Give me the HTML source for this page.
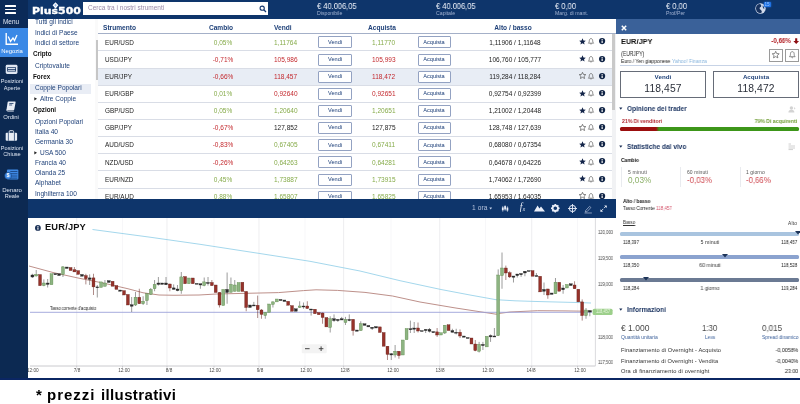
<!DOCTYPE html>
<html lang="it"><head><meta charset="utf-8"><title>Plus500 - EUR/JPY</title>
<style>
html,body{margin:0;padding:0;background:#fff;}
body{width:800px;height:404px;position:relative;overflow:hidden;font-family:"Liberation Sans",Arial,sans-serif;}
.t{position:absolute;white-space:nowrap;display:block;will-change:transform;}
.b{position:absolute;box-sizing:border-box;}
svg{position:absolute;overflow:visible;}
</style></head>
<body>
<div class="b" style="left:0px;top:0px;width:800px;height:19px;background:#0e356b;"></div>
<div class="b" style="left:0px;top:19px;width:28px;height:360.5px;background:#0c2952;"></div>
<div class="b" style="left:0px;top:0px;width:28px;height:28px;background:#0b2a58;"></div>
<div class="b" style="left:0px;top:27.8px;width:28.2px;height:29.4px;background:#3b89e6;"></div>
<div class="b" style="left:28px;top:199px;width:587.5px;height:18.5px;background:#0e356b;"></div>
<div class="b" style="left:0px;top:377.6px;width:800px;height:2px;background:#0b2663;"></div>
<div class="b" style="left:30px;top:83.8px;width:61px;height:10px;background:#e9edf5;"></div>
<span class="t" style="top:19.43px;font-size:6.55px;line-height:6.55px;color:#1f4179;left:34.7px;">Tutti gli indici</span>
<span class="t" style="top:29.73px;font-size:6.55px;line-height:6.55px;color:#1f4179;left:34.7px;">Indici di Paese</span>
<span class="t" style="top:39.93px;font-size:6.55px;line-height:6.55px;color:#1f4179;left:34.7px;">Indici di settore</span>
<span class="t" style="top:50.65px;font-size:6.3px;line-height:6.3px;color:#111;font-weight:bold;left:32.8px;">Cripto</span>
<span class="t" style="top:62.73px;font-size:6.55px;line-height:6.55px;color:#1f4179;left:34.7px;">Criptovalute</span>
<span class="t" style="top:73.65px;font-size:6.3px;line-height:6.3px;color:#111;font-weight:bold;left:32.8px;">Forex</span>
<span class="t" style="top:85.42px;font-size:6.55px;line-height:6.55px;color:#1f4179;left:34.7px;">Coppie Popolari</span>
<svg style="left:33.8px;top:97.10000000000001px" width="4" height="4" viewBox="0 0 4 4"><path d="M0.3 0.2 L3 1.8 L0.3 3.4 Z" fill="#222"/></svg>
<span class="t" style="top:95.62px;font-size:6.55px;line-height:6.55px;color:#1f4179;left:40.3px;">Altre Coppie</span>
<span class="t" style="top:107.45px;font-size:6.3px;line-height:6.3px;color:#111;font-weight:bold;left:32.8px;">Opzioni</span>
<span class="t" style="top:119.02px;font-size:6.55px;line-height:6.55px;color:#1f4179;left:34.7px;">Opzioni Popolari</span>
<span class="t" style="top:129.22px;font-size:6.55px;line-height:6.55px;color:#1f4179;left:34.7px;">Italia 40</span>
<span class="t" style="top:139.42px;font-size:6.55px;line-height:6.55px;color:#1f4179;left:34.7px;">Germania 30</span>
<svg style="left:33.8px;top:151.09999999999997px" width="4" height="4" viewBox="0 0 4 4"><path d="M0.3 0.2 L3 1.8 L0.3 3.4 Z" fill="#222"/></svg>
<span class="t" style="top:149.62px;font-size:6.55px;line-height:6.55px;color:#1f4179;left:40.3px;">USA 500</span>
<span class="t" style="top:159.62px;font-size:6.55px;line-height:6.55px;color:#1f4179;left:34.7px;">Francia 40</span>
<span class="t" style="top:169.92px;font-size:6.55px;line-height:6.55px;color:#1f4179;left:34.7px;">Olanda 25</span>
<span class="t" style="top:180.12px;font-size:6.55px;line-height:6.55px;color:#1f4179;left:34.7px;">Alphabet</span>
<span class="t" style="top:191.02px;font-size:6.55px;line-height:6.55px;color:#1f4179;left:34.7px;">Inghilterra 100</span>
<div class="b" style="left:28px;top:0px;width:70px;height:19px;background:#0e356b;"></div>
<div class="b" style="left:95px;top:19px;width:3px;height:181px;background:#fafafa;"></div>
<div class="b" style="left:95.8px;top:40px;width:2.1px;height:40px;background:#c6c6c6;"></div>
<span class="t" style="top:7.20px;font-size:9.0px;line-height:9.0px;color:#fff;font-weight:bold;left:32.0px;transform:scaleX(1.215);transform-origin:0 50%;font-family:'DejaVu Sans','Liberation Sans',sans-serif;-webkit-text-stroke:0.35px #fff;">Plus500</span>
<svg style="left:52.4px;top:1.9px" width="7" height="7" viewBox="0 0 7 7"><path d="M3.5 0.3 L6.4 3.3 L4.4 5.4 V6.6 H2.6 V5.4 L0.6 3.3 Z" fill="#fff"/><path d="M3.5 1.9 V4.5 M2.2 3.2 H4.8" stroke="#7aa6e0" stroke-width="0.6"/></svg>
<div class="b" style="left:83px;top:2.2px;width:185px;height:12.7px;background:#fff;"></div>
<span class="t" style="top:5.35px;font-size:6.5px;line-height:6.5px;color:#9a8aa8;left:88px;">Cerca tra i nostri strumenti</span>
<svg style="left:258.5px;top:5px" width="8" height="8" viewBox="0 0 8 8"><circle cx="3.2" cy="3.2" r="2.1" fill="none" stroke="#16386f" stroke-width="1.1"/><path d="M4.8 4.8 L7 7" stroke="#16386f" stroke-width="1.3"/></svg>
<span class="t" style="top:1.70px;font-size:8.4px;line-height:8.4px;color:#eef2fa;left:316.5px;transform:scaleX(0.8946);transform-origin:0 50%;">€ 40.006,05</span>
<span class="t" style="top:11.20px;font-size:5.2px;line-height:5.2px;color:#a3b3d2;left:316.5px;">Disponibile</span>
<span class="t" style="top:1.70px;font-size:8.4px;line-height:8.4px;color:#eef2fa;left:435.5px;transform:scaleX(0.8946);transform-origin:0 50%;">€ 40.006,05</span>
<span class="t" style="top:11.20px;font-size:5.2px;line-height:5.2px;color:#a3b3d2;left:435.5px;">Capitale</span>
<span class="t" style="top:1.70px;font-size:8.4px;line-height:8.4px;color:#eef2fa;left:554.5px;transform:scaleX(0.8992);transform-origin:0 50%;">€ 0,00</span>
<span class="t" style="top:11.20px;font-size:5.2px;line-height:5.2px;color:#a3b3d2;left:554.5px;">Marg. di mant.</span>
<span class="t" style="top:1.70px;font-size:8.4px;line-height:8.4px;color:#eef2fa;left:666px;transform:scaleX(0.8992);transform-origin:0 50%;">€ 0,00</span>
<span class="t" style="top:11.20px;font-size:5.2px;line-height:5.2px;color:#a3b3d2;left:666px;">Prof/Per</span>
<svg style="left:755px;top:3px" width="11" height="11" viewBox="0 0 11 11"><circle cx="5.5" cy="5.5" r="5.2" fill="#cfd9ea"/><path d="M3.6 1.2 C5.2 0.8 6.6 1.8 6.2 3.2 C5.8 4.4 4.4 4.2 4.6 5.6 C4.8 7 6.6 6.8 6.8 8.4 C6.9 9.4 5.8 10.2 4.6 10 C2.4 9.4 1 7.6 1 5.4 C1 3.4 2 1.8 3.6 1.2 Z" fill="#17325f"/><path d="M7.6 2.4 C8.8 3.2 9.4 4.6 9.2 6 C8.6 5.6 7.6 4.6 7.6 2.4 Z" fill="#17325f"/></svg>
<div class="b" style="left:763.6px;top:2.3px;width:7px;height:5px;background:#1f72e4;border-radius:1px;box-shadow:0 0 2px #1f72e4;"></div>
<span class="t" style="top:2.60px;font-size:4.6px;line-height:4.6px;color:#9cc6ff;left:767.1px;transform:translateX(-50%);">15</span>
<div class="b" style="left:5.1px;top:5.1px;width:11px;height:1.9px;background:#fff;border-radius:0.5px;"></div>
<div class="b" style="left:5.1px;top:8.600000000000001px;width:11px;height:1.9px;background:#fff;border-radius:0.5px;"></div>
<div class="b" style="left:5.1px;top:12.100000000000001px;width:11px;height:1.9px;background:#fff;border-radius:0.5px;"></div>
<span class="t" style="top:18.70px;font-size:6.4px;line-height:6.4px;color:#dfe6f2;left:11.3px;transform:translateX(-50%);">Menu</span>
<svg style="left:4.5px;top:32px" width="14" height="14" viewBox="0 0 14 14"><path d="M1.2 1 V12.3 H13" fill="none" stroke="#fff" stroke-width="1.4"/><path d="M3.2 4.5 L5.5 9.5 L8 6 L9.5 8.5 L12 3" fill="none" stroke="#fff" stroke-width="1.3"/></svg>
<span class="t" style="top:49.05px;font-size:5.9px;line-height:5.9px;color:#fff;left:11.6px;transform:translateX(-50%);">Negozia</span>
<svg style="left:5px;top:63.6px" width="13.2" height="11" viewBox="0 0 14 12"><rect x="0.6" y="0.8" width="12.8" height="10" rx="1.6" fill="#dfe6f2"/><rect x="2.2" y="3.6" width="9.6" height="4.6" fill="#0b2b5a"/><rect x="3" y="4.4" width="8" height="1.2" fill="#dfe6f2"/><rect x="3" y="6.4" width="8" height="1" fill="#dfe6f2"/></svg>
<span class="t" style="top:79.20px;font-size:5.6px;line-height:5.6px;color:#dfe6f2;left:11.6px;transform:translateX(-50%);">Posizioni</span>
<span class="t" style="top:85.50px;font-size:5.6px;line-height:5.6px;color:#dfe6f2;left:11.6px;transform:translateX(-50%);">Aperte</span>
<svg style="left:5.2px;top:100.6px" width="12.6" height="10.8" viewBox="0 0 14 13"><path d="M3.5 0.6 H11.5 Q12.4 0.6 12.2 1.6 L10.6 10.2 Q10.4 11 9.6 11 H2 Q1 11 1.3 10 L2.6 1.5 Q2.8 0.6 3.5 0.6 Z" fill="#e8edf6"/><path d="M1.3 10.3 Q1.2 12.2 3 12.2 H10" fill="none" stroke="#e8edf6" stroke-width="1"/><path d="M4.6 3 H9.6 M4.3 4.8 H8" stroke="#0b2b5a" stroke-width="0.9"/></svg>
<span class="t" style="top:115.35px;font-size:5.9px;line-height:5.9px;color:#dfe6f2;left:11.4px;transform:translateX(-50%);">Ordini</span>
<svg style="left:5.2px;top:130.4px" width="12.8" height="11.6" viewBox="0 0 14 13"><path d="M4.6 3 V1.6 Q4.6 0.8 5.4 0.8 H8.6 Q9.4 0.8 9.4 1.6 V3" fill="none" stroke="#e8edf6" stroke-width="1.1"/><rect x="0.6" y="3" width="12.8" height="9" rx="1.2" fill="#e8edf6"/><path d="M3.6 3 V12 M10.4 3 V12" stroke="#0b2b5a" stroke-width="0.8"/></svg>
<span class="t" style="top:145.60px;font-size:5.6px;line-height:5.6px;color:#dfe6f2;left:11.6px;transform:translateX(-50%);">Posizioni</span>
<span class="t" style="top:151.90px;font-size:5.6px;line-height:5.6px;color:#dfe6f2;left:11.6px;transform:translateX(-50%);">Chiuse</span>
<svg style="left:4px;top:168.8px" width="15.4" height="11.4" viewBox="0 0 16 12"><rect x="3" y="0.6" width="12" height="10.4" rx="1" fill="#3f8be8"/><path d="M6.5 2.6 H14 M6.5 5 H14 M6.5 7.4 H14 M6.5 9.6 H14" stroke="#0b2b5a" stroke-width="0.7"/><circle cx="4.2" cy="7.2" r="3.7" fill="#3f8be8" stroke="#0b2b5a" stroke-width="0.5"/></svg>
<span class="t" style="top:173.05px;font-size:5.5px;line-height:5.5px;color:#fff;font-weight:bold;left:8.1px;transform:translateX(-50%);">$</span>
<span class="t" style="top:187.30px;font-size:6.0px;line-height:6.0px;color:#dfe6f2;left:11.6px;transform:translateX(-50%);">Denaro</span>
<span class="t" style="top:194.00px;font-size:5.6px;line-height:5.6px;color:#dfe6f2;left:11.6px;transform:translateX(-50%);">Reale</span>
<div class="b" style="left:98px;top:19px;width:514px;height:181px;background:#fff;"></div>
<div class="b" style="left:98px;top:67.5px;width:514px;height:17.2px;background:#e8edf5;"></div>
<div class="b" style="left:98px;top:33px;width:517.5px;height:1px;background:#a4b0c8;"></div>
<div class="b" style="left:98px;top:50.4px;width:514px;height:1px;background:#d9dde6;"></div>
<div class="b" style="left:98px;top:67.55px;width:514px;height:1px;background:#d9dde6;"></div>
<div class="b" style="left:98px;top:84.69999999999999px;width:514px;height:1px;background:#d9dde6;"></div>
<div class="b" style="left:98px;top:101.85px;width:514px;height:1px;background:#d9dde6;"></div>
<div class="b" style="left:98px;top:119.0px;width:514px;height:1px;background:#d9dde6;"></div>
<div class="b" style="left:98px;top:136.14999999999998px;width:514px;height:1px;background:#d9dde6;"></div>
<div class="b" style="left:98px;top:153.29999999999998px;width:514px;height:1px;background:#d9dde6;"></div>
<div class="b" style="left:98px;top:170.45px;width:514px;height:1px;background:#d9dde6;"></div>
<div class="b" style="left:98px;top:187.6px;width:514px;height:1px;background:#d9dde6;"></div>
<span class="t" style="top:25.10px;font-size:6.6px;line-height:6.6px;color:#1f4179;font-weight:bold;left:103px;">Strumento</span>
<span class="t" style="top:25.10px;font-size:6.6px;line-height:6.6px;color:#1f4179;font-weight:bold;left:220.5px;transform:translateX(-50%);">Cambio</span>
<span class="t" style="top:25.10px;font-size:6.6px;line-height:6.6px;color:#1f4179;font-weight:bold;left:274px;">Vendi</span>
<span class="t" style="top:25.10px;font-size:6.6px;line-height:6.6px;color:#1f4179;font-weight:bold;right:404.5px;">Acquista</span>
<span class="t" style="top:25.10px;font-size:6.6px;line-height:6.6px;color:#1f4179;font-weight:bold;left:512.5px;transform:translateX(-50%);">Alto / basso</span>
<span class="t" style="top:39.55px;font-size:6.4px;line-height:6.4px;color:#222;left:104.7px;">EUR/USD</span>
<span class="t" style="top:39.50px;font-size:6.5px;line-height:6.5px;color:#86ab4a;left:222.5px;transform:translateX(-50%);">0,05%</span>
<span class="t" style="top:39.50px;font-size:6.5px;line-height:6.5px;color:#86ab4a;left:274px;">1,11764</span>
<span class="t" style="top:39.50px;font-size:6.5px;line-height:6.5px;color:#86ab4a;right:404.5px;">1,11770</span>
<div class="b" style="left:318px;top:36.35px;width:33.5px;height:12px;background:#fff;border:1px solid #93a2c2;border-radius:1px;"></div>
<span class="t" style="top:39.65px;font-size:5.6px;line-height:5.6px;color:#173a75;left:334.7px;transform:translateX(-50%);">Vendi</span>
<div class="b" style="left:417.5px;top:36.35px;width:33.5px;height:12px;background:#fff;border:1px solid #93a2c2;border-radius:1px;"></div>
<span class="t" style="top:39.65px;font-size:5.6px;line-height:5.6px;color:#173a75;left:434.2px;transform:translateX(-50%);">Acquista</span>
<span class="t" style="top:39.50px;font-size:6.5px;line-height:6.5px;color:#222;left:515px;transform:translateX(-50%);">1,11906 / 1,11648</span>
<svg style="left:579px;top:38.05px" width="7" height="7" viewBox="0 0 7 7"><path d="M3.5 0.3 L4.45 2.4 L6.8 2.65 L5.05 4.2 L5.55 6.5 L3.5 5.3 L1.45 6.5 L1.95 4.2 L0.2 2.65 L2.55 2.4 Z" fill="#14254a"/></svg>
<svg style="left:587.7px;top:38.45px" width="6" height="7" viewBox="0 0 6 7"><path d="M3 0.6 C1.6 0.6 1.3 1.8 1.3 3 C1.3 4.2 0.9 4.6 0.4 5.2 H5.6 C5.1 4.6 4.7 4.2 4.7 3 C4.7 1.8 4.4 0.6 3 0.6 Z M2.3 5.8 Q3 6.6 3.7 5.8" fill="none" stroke="#555" stroke-width="0.65"/></svg>
<svg style="left:598.7px;top:38.35px" width="6.2" height="6.2" viewBox="0 0 8 8"><circle cx="4" cy="4" r="4" fill="#0f2345"/><rect x="3.3" y="3.3" width="1.5" height="3.2" fill="#fff"/><rect x="3.3" y="1.4" width="1.5" height="1.3" fill="#fff"/></svg>
<span class="t" style="top:56.70px;font-size:6.4px;line-height:6.4px;color:#222;left:104.7px;">USD/JPY</span>
<span class="t" style="top:56.65px;font-size:6.5px;line-height:6.5px;color:#c3282d;left:222.5px;transform:translateX(-50%);">-0,71%</span>
<span class="t" style="top:56.65px;font-size:6.5px;line-height:6.5px;color:#c3282d;left:274px;">105,986</span>
<span class="t" style="top:56.65px;font-size:6.5px;line-height:6.5px;color:#c3282d;right:404.5px;">105,993</span>
<div class="b" style="left:318px;top:53.5px;width:33.5px;height:12px;background:#fff;border:1px solid #93a2c2;border-radius:1px;"></div>
<span class="t" style="top:56.80px;font-size:5.6px;line-height:5.6px;color:#173a75;left:334.7px;transform:translateX(-50%);">Vendi</span>
<div class="b" style="left:417.5px;top:53.5px;width:33.5px;height:12px;background:#fff;border:1px solid #93a2c2;border-radius:1px;"></div>
<span class="t" style="top:56.80px;font-size:5.6px;line-height:5.6px;color:#173a75;left:434.2px;transform:translateX(-50%);">Acquista</span>
<span class="t" style="top:56.65px;font-size:6.5px;line-height:6.5px;color:#222;left:515px;transform:translateX(-50%);">106,760 / 105,777</span>
<svg style="left:579px;top:55.199999999999996px" width="7" height="7" viewBox="0 0 7 7"><path d="M3.5 0.3 L4.45 2.4 L6.8 2.65 L5.05 4.2 L5.55 6.5 L3.5 5.3 L1.45 6.5 L1.95 4.2 L0.2 2.65 L2.55 2.4 Z" fill="#14254a"/></svg>
<svg style="left:587.7px;top:55.6px" width="6" height="7" viewBox="0 0 6 7"><path d="M3 0.6 C1.6 0.6 1.3 1.8 1.3 3 C1.3 4.2 0.9 4.6 0.4 5.2 H5.6 C5.1 4.6 4.7 4.2 4.7 3 C4.7 1.8 4.4 0.6 3 0.6 Z M2.3 5.8 Q3 6.6 3.7 5.8" fill="none" stroke="#555" stroke-width="0.65"/></svg>
<svg style="left:598.7px;top:55.5px" width="6.2" height="6.2" viewBox="0 0 8 8"><circle cx="4" cy="4" r="4" fill="#0f2345"/><rect x="3.3" y="3.3" width="1.5" height="3.2" fill="#fff"/><rect x="3.3" y="1.4" width="1.5" height="1.3" fill="#fff"/></svg>
<span class="t" style="top:73.85px;font-size:6.4px;line-height:6.4px;color:#222;left:104.7px;">EUR/JPY</span>
<span class="t" style="top:73.80px;font-size:6.5px;line-height:6.5px;color:#c3282d;left:222.5px;transform:translateX(-50%);">-0,66%</span>
<span class="t" style="top:73.80px;font-size:6.5px;line-height:6.5px;color:#c3282d;left:274px;">118,457</span>
<span class="t" style="top:73.80px;font-size:6.5px;line-height:6.5px;color:#c3282d;right:404.5px;">118,472</span>
<div class="b" style="left:318px;top:70.64999999999999px;width:33.5px;height:12px;background:#fff;border:1px solid #93a2c2;border-radius:1px;"></div>
<span class="t" style="top:73.95px;font-size:5.6px;line-height:5.6px;color:#173a75;left:334.7px;transform:translateX(-50%);">Vendi</span>
<div class="b" style="left:417.5px;top:70.64999999999999px;width:33.5px;height:12px;background:#fff;border:1px solid #93a2c2;border-radius:1px;"></div>
<span class="t" style="top:73.95px;font-size:5.6px;line-height:5.6px;color:#173a75;left:434.2px;transform:translateX(-50%);">Acquista</span>
<span class="t" style="top:73.80px;font-size:6.5px;line-height:6.5px;color:#222;left:515px;transform:translateX(-50%);">119,284 / 118,284</span>
<svg style="left:579px;top:72.35px" width="7" height="7" viewBox="0 0 7 7"><path d="M3.5 0.3 L4.45 2.4 L6.8 2.65 L5.05 4.2 L5.55 6.5 L3.5 5.3 L1.45 6.5 L1.95 4.2 L0.2 2.65 L2.55 2.4 Z" fill="none" stroke="#555" stroke-width="0.7"/></svg>
<svg style="left:587.7px;top:72.75px" width="6" height="7" viewBox="0 0 6 7"><path d="M3 0.6 C1.6 0.6 1.3 1.8 1.3 3 C1.3 4.2 0.9 4.6 0.4 5.2 H5.6 C5.1 4.6 4.7 4.2 4.7 3 C4.7 1.8 4.4 0.6 3 0.6 Z M2.3 5.8 Q3 6.6 3.7 5.8" fill="none" stroke="#555" stroke-width="0.65"/></svg>
<svg style="left:598.7px;top:72.64999999999999px" width="6.2" height="6.2" viewBox="0 0 8 8"><circle cx="4" cy="4" r="4" fill="#0f2345"/><rect x="3.3" y="3.3" width="1.5" height="3.2" fill="#fff"/><rect x="3.3" y="1.4" width="1.5" height="1.3" fill="#fff"/></svg>
<span class="t" style="top:91.00px;font-size:6.4px;line-height:6.4px;color:#222;left:104.7px;">EUR/GBP</span>
<span class="t" style="top:90.95px;font-size:6.5px;line-height:6.5px;color:#86ab4a;left:222.5px;transform:translateX(-50%);">0,01%</span>
<span class="t" style="top:90.95px;font-size:6.5px;line-height:6.5px;color:#c3282d;left:274px;">0,92640</span>
<span class="t" style="top:90.95px;font-size:6.5px;line-height:6.5px;color:#c3282d;right:404.5px;">0,92651</span>
<div class="b" style="left:318px;top:87.79999999999998px;width:33.5px;height:12px;background:#fff;border:1px solid #93a2c2;border-radius:1px;"></div>
<span class="t" style="top:91.10px;font-size:5.6px;line-height:5.6px;color:#173a75;left:334.7px;transform:translateX(-50%);">Vendi</span>
<div class="b" style="left:417.5px;top:87.79999999999998px;width:33.5px;height:12px;background:#fff;border:1px solid #93a2c2;border-radius:1px;"></div>
<span class="t" style="top:91.10px;font-size:5.6px;line-height:5.6px;color:#173a75;left:434.2px;transform:translateX(-50%);">Acquista</span>
<span class="t" style="top:90.95px;font-size:6.5px;line-height:6.5px;color:#222;left:515px;transform:translateX(-50%);">0,92754 / 0,92399</span>
<svg style="left:579px;top:89.49999999999999px" width="7" height="7" viewBox="0 0 7 7"><path d="M3.5 0.3 L4.45 2.4 L6.8 2.65 L5.05 4.2 L5.55 6.5 L3.5 5.3 L1.45 6.5 L1.95 4.2 L0.2 2.65 L2.55 2.4 Z" fill="#14254a"/></svg>
<svg style="left:587.7px;top:89.89999999999999px" width="6" height="7" viewBox="0 0 6 7"><path d="M3 0.6 C1.6 0.6 1.3 1.8 1.3 3 C1.3 4.2 0.9 4.6 0.4 5.2 H5.6 C5.1 4.6 4.7 4.2 4.7 3 C4.7 1.8 4.4 0.6 3 0.6 Z M2.3 5.8 Q3 6.6 3.7 5.8" fill="none" stroke="#555" stroke-width="0.65"/></svg>
<svg style="left:598.7px;top:89.79999999999998px" width="6.2" height="6.2" viewBox="0 0 8 8"><circle cx="4" cy="4" r="4" fill="#0f2345"/><rect x="3.3" y="3.3" width="1.5" height="3.2" fill="#fff"/><rect x="3.3" y="1.4" width="1.5" height="1.3" fill="#fff"/></svg>
<span class="t" style="top:108.15px;font-size:6.4px;line-height:6.4px;color:#222;left:104.7px;">GBP/USD</span>
<span class="t" style="top:108.10px;font-size:6.5px;line-height:6.5px;color:#86ab4a;left:222.5px;transform:translateX(-50%);">0,05%</span>
<span class="t" style="top:108.10px;font-size:6.5px;line-height:6.5px;color:#86ab4a;left:274px;">1,20640</span>
<span class="t" style="top:108.10px;font-size:6.5px;line-height:6.5px;color:#86ab4a;right:404.5px;">1,20651</span>
<div class="b" style="left:318px;top:104.94999999999999px;width:33.5px;height:12px;background:#fff;border:1px solid #93a2c2;border-radius:1px;"></div>
<span class="t" style="top:108.25px;font-size:5.6px;line-height:5.6px;color:#173a75;left:334.7px;transform:translateX(-50%);">Vendi</span>
<div class="b" style="left:417.5px;top:104.94999999999999px;width:33.5px;height:12px;background:#fff;border:1px solid #93a2c2;border-radius:1px;"></div>
<span class="t" style="top:108.25px;font-size:5.6px;line-height:5.6px;color:#173a75;left:434.2px;transform:translateX(-50%);">Acquista</span>
<span class="t" style="top:108.10px;font-size:6.5px;line-height:6.5px;color:#222;left:515px;transform:translateX(-50%);">1,21002 / 1,20448</span>
<svg style="left:579px;top:106.64999999999999px" width="7" height="7" viewBox="0 0 7 7"><path d="M3.5 0.3 L4.45 2.4 L6.8 2.65 L5.05 4.2 L5.55 6.5 L3.5 5.3 L1.45 6.5 L1.95 4.2 L0.2 2.65 L2.55 2.4 Z" fill="#14254a"/></svg>
<svg style="left:587.7px;top:107.05px" width="6" height="7" viewBox="0 0 6 7"><path d="M3 0.6 C1.6 0.6 1.3 1.8 1.3 3 C1.3 4.2 0.9 4.6 0.4 5.2 H5.6 C5.1 4.6 4.7 4.2 4.7 3 C4.7 1.8 4.4 0.6 3 0.6 Z M2.3 5.8 Q3 6.6 3.7 5.8" fill="none" stroke="#555" stroke-width="0.65"/></svg>
<svg style="left:598.7px;top:106.94999999999999px" width="6.2" height="6.2" viewBox="0 0 8 8"><circle cx="4" cy="4" r="4" fill="#0f2345"/><rect x="3.3" y="3.3" width="1.5" height="3.2" fill="#fff"/><rect x="3.3" y="1.4" width="1.5" height="1.3" fill="#fff"/></svg>
<span class="t" style="top:125.30px;font-size:6.4px;line-height:6.4px;color:#222;left:104.7px;">GBP/JPY</span>
<span class="t" style="top:125.25px;font-size:6.5px;line-height:6.5px;color:#c3282d;left:222.5px;transform:translateX(-50%);">-0,67%</span>
<span class="t" style="top:125.25px;font-size:6.5px;line-height:6.5px;color:#222;left:274px;">127,852</span>
<span class="t" style="top:125.25px;font-size:6.5px;line-height:6.5px;color:#222;right:404.5px;">127,875</span>
<div class="b" style="left:318px;top:122.1px;width:33.5px;height:12px;background:#fff;border:1px solid #93a2c2;border-radius:1px;"></div>
<span class="t" style="top:125.40px;font-size:5.6px;line-height:5.6px;color:#173a75;left:334.7px;transform:translateX(-50%);">Vendi</span>
<div class="b" style="left:417.5px;top:122.1px;width:33.5px;height:12px;background:#fff;border:1px solid #93a2c2;border-radius:1px;"></div>
<span class="t" style="top:125.40px;font-size:5.6px;line-height:5.6px;color:#173a75;left:434.2px;transform:translateX(-50%);">Acquista</span>
<span class="t" style="top:125.25px;font-size:6.5px;line-height:6.5px;color:#222;left:515px;transform:translateX(-50%);">128,748 / 127,639</span>
<svg style="left:579px;top:123.8px" width="7" height="7" viewBox="0 0 7 7"><path d="M3.5 0.3 L4.45 2.4 L6.8 2.65 L5.05 4.2 L5.55 6.5 L3.5 5.3 L1.45 6.5 L1.95 4.2 L0.2 2.65 L2.55 2.4 Z" fill="none" stroke="#555" stroke-width="0.7"/></svg>
<svg style="left:587.7px;top:124.2px" width="6" height="7" viewBox="0 0 6 7"><path d="M3 0.6 C1.6 0.6 1.3 1.8 1.3 3 C1.3 4.2 0.9 4.6 0.4 5.2 H5.6 C5.1 4.6 4.7 4.2 4.7 3 C4.7 1.8 4.4 0.6 3 0.6 Z M2.3 5.8 Q3 6.6 3.7 5.8" fill="none" stroke="#555" stroke-width="0.65"/></svg>
<svg style="left:598.7px;top:124.1px" width="6.2" height="6.2" viewBox="0 0 8 8"><circle cx="4" cy="4" r="4" fill="#0f2345"/><rect x="3.3" y="3.3" width="1.5" height="3.2" fill="#fff"/><rect x="3.3" y="1.4" width="1.5" height="1.3" fill="#fff"/></svg>
<span class="t" style="top:142.45px;font-size:6.4px;line-height:6.4px;color:#222;left:104.7px;">AUD/USD</span>
<span class="t" style="top:142.40px;font-size:6.5px;line-height:6.5px;color:#c3282d;left:222.5px;transform:translateX(-50%);">-0,83%</span>
<span class="t" style="top:142.40px;font-size:6.5px;line-height:6.5px;color:#86ab4a;left:274px;">0,67405</span>
<span class="t" style="top:142.40px;font-size:6.5px;line-height:6.5px;color:#86ab4a;right:404.5px;">0,67411</span>
<div class="b" style="left:318px;top:139.24999999999997px;width:33.5px;height:12px;background:#fff;border:1px solid #93a2c2;border-radius:1px;"></div>
<span class="t" style="top:142.55px;font-size:5.6px;line-height:5.6px;color:#173a75;left:334.7px;transform:translateX(-50%);">Vendi</span>
<div class="b" style="left:417.5px;top:139.24999999999997px;width:33.5px;height:12px;background:#fff;border:1px solid #93a2c2;border-radius:1px;"></div>
<span class="t" style="top:142.55px;font-size:5.6px;line-height:5.6px;color:#173a75;left:434.2px;transform:translateX(-50%);">Acquista</span>
<span class="t" style="top:142.40px;font-size:6.5px;line-height:6.5px;color:#222;left:515px;transform:translateX(-50%);">0,68080 / 0,67354</span>
<svg style="left:579px;top:140.95px" width="7" height="7" viewBox="0 0 7 7"><path d="M3.5 0.3 L4.45 2.4 L6.8 2.65 L5.05 4.2 L5.55 6.5 L3.5 5.3 L1.45 6.5 L1.95 4.2 L0.2 2.65 L2.55 2.4 Z" fill="#14254a"/></svg>
<svg style="left:587.7px;top:141.34999999999997px" width="6" height="7" viewBox="0 0 6 7"><path d="M3 0.6 C1.6 0.6 1.3 1.8 1.3 3 C1.3 4.2 0.9 4.6 0.4 5.2 H5.6 C5.1 4.6 4.7 4.2 4.7 3 C4.7 1.8 4.4 0.6 3 0.6 Z M2.3 5.8 Q3 6.6 3.7 5.8" fill="none" stroke="#555" stroke-width="0.65"/></svg>
<svg style="left:598.7px;top:141.24999999999997px" width="6.2" height="6.2" viewBox="0 0 8 8"><circle cx="4" cy="4" r="4" fill="#0f2345"/><rect x="3.3" y="3.3" width="1.5" height="3.2" fill="#fff"/><rect x="3.3" y="1.4" width="1.5" height="1.3" fill="#fff"/></svg>
<span class="t" style="top:159.60px;font-size:6.4px;line-height:6.4px;color:#222;left:104.7px;">NZD/USD</span>
<span class="t" style="top:159.55px;font-size:6.5px;line-height:6.5px;color:#c3282d;left:222.5px;transform:translateX(-50%);">-0,26%</span>
<span class="t" style="top:159.55px;font-size:6.5px;line-height:6.5px;color:#86ab4a;left:274px;">0,64263</span>
<span class="t" style="top:159.55px;font-size:6.5px;line-height:6.5px;color:#86ab4a;right:404.5px;">0,64281</span>
<div class="b" style="left:318px;top:156.39999999999998px;width:33.5px;height:12px;background:#fff;border:1px solid #93a2c2;border-radius:1px;"></div>
<span class="t" style="top:159.70px;font-size:5.6px;line-height:5.6px;color:#173a75;left:334.7px;transform:translateX(-50%);">Vendi</span>
<div class="b" style="left:417.5px;top:156.39999999999998px;width:33.5px;height:12px;background:#fff;border:1px solid #93a2c2;border-radius:1px;"></div>
<span class="t" style="top:159.70px;font-size:5.6px;line-height:5.6px;color:#173a75;left:434.2px;transform:translateX(-50%);">Acquista</span>
<span class="t" style="top:159.55px;font-size:6.5px;line-height:6.5px;color:#222;left:515px;transform:translateX(-50%);">0,64678 / 0,64226</span>
<svg style="left:579px;top:158.1px" width="7" height="7" viewBox="0 0 7 7"><path d="M3.5 0.3 L4.45 2.4 L6.8 2.65 L5.05 4.2 L5.55 6.5 L3.5 5.3 L1.45 6.5 L1.95 4.2 L0.2 2.65 L2.55 2.4 Z" fill="#14254a"/></svg>
<svg style="left:587.7px;top:158.49999999999997px" width="6" height="7" viewBox="0 0 6 7"><path d="M3 0.6 C1.6 0.6 1.3 1.8 1.3 3 C1.3 4.2 0.9 4.6 0.4 5.2 H5.6 C5.1 4.6 4.7 4.2 4.7 3 C4.7 1.8 4.4 0.6 3 0.6 Z M2.3 5.8 Q3 6.6 3.7 5.8" fill="none" stroke="#555" stroke-width="0.65"/></svg>
<svg style="left:598.7px;top:158.39999999999998px" width="6.2" height="6.2" viewBox="0 0 8 8"><circle cx="4" cy="4" r="4" fill="#0f2345"/><rect x="3.3" y="3.3" width="1.5" height="3.2" fill="#fff"/><rect x="3.3" y="1.4" width="1.5" height="1.3" fill="#fff"/></svg>
<span class="t" style="top:176.75px;font-size:6.4px;line-height:6.4px;color:#222;left:104.7px;">EUR/NZD</span>
<span class="t" style="top:176.70px;font-size:6.5px;line-height:6.5px;color:#86ab4a;left:222.5px;transform:translateX(-50%);">0,45%</span>
<span class="t" style="top:176.70px;font-size:6.5px;line-height:6.5px;color:#86ab4a;left:274px;">1,73887</span>
<span class="t" style="top:176.70px;font-size:6.5px;line-height:6.5px;color:#86ab4a;right:404.5px;">1,73915</span>
<div class="b" style="left:318px;top:173.54999999999998px;width:33.5px;height:12px;background:#fff;border:1px solid #93a2c2;border-radius:1px;"></div>
<span class="t" style="top:176.85px;font-size:5.6px;line-height:5.6px;color:#173a75;left:334.7px;transform:translateX(-50%);">Vendi</span>
<div class="b" style="left:417.5px;top:173.54999999999998px;width:33.5px;height:12px;background:#fff;border:1px solid #93a2c2;border-radius:1px;"></div>
<span class="t" style="top:176.85px;font-size:5.6px;line-height:5.6px;color:#173a75;left:434.2px;transform:translateX(-50%);">Acquista</span>
<span class="t" style="top:176.70px;font-size:6.5px;line-height:6.5px;color:#222;left:515px;transform:translateX(-50%);">1,74062 / 1,72690</span>
<svg style="left:579px;top:175.25px" width="7" height="7" viewBox="0 0 7 7"><path d="M3.5 0.3 L4.45 2.4 L6.8 2.65 L5.05 4.2 L5.55 6.5 L3.5 5.3 L1.45 6.5 L1.95 4.2 L0.2 2.65 L2.55 2.4 Z" fill="#14254a"/></svg>
<svg style="left:587.7px;top:175.64999999999998px" width="6" height="7" viewBox="0 0 6 7"><path d="M3 0.6 C1.6 0.6 1.3 1.8 1.3 3 C1.3 4.2 0.9 4.6 0.4 5.2 H5.6 C5.1 4.6 4.7 4.2 4.7 3 C4.7 1.8 4.4 0.6 3 0.6 Z M2.3 5.8 Q3 6.6 3.7 5.8" fill="none" stroke="#555" stroke-width="0.65"/></svg>
<svg style="left:598.7px;top:175.54999999999998px" width="6.2" height="6.2" viewBox="0 0 8 8"><circle cx="4" cy="4" r="4" fill="#0f2345"/><rect x="3.3" y="3.3" width="1.5" height="3.2" fill="#fff"/><rect x="3.3" y="1.4" width="1.5" height="1.3" fill="#fff"/></svg>
<span class="t" style="top:193.90px;font-size:6.4px;line-height:6.4px;color:#222;left:104.7px;">EUR/AUD</span>
<span class="t" style="top:193.85px;font-size:6.5px;line-height:6.5px;color:#86ab4a;left:222.5px;transform:translateX(-50%);">0,88%</span>
<span class="t" style="top:193.85px;font-size:6.5px;line-height:6.5px;color:#86ab4a;left:274px;">1,65807</span>
<span class="t" style="top:193.85px;font-size:6.5px;line-height:6.5px;color:#86ab4a;right:404.5px;">1,65825</span>
<div class="b" style="left:318px;top:190.7px;width:33.5px;height:12px;background:#fff;border:1px solid #93a2c2;border-radius:1px;"></div>
<span class="t" style="top:194.00px;font-size:5.6px;line-height:5.6px;color:#173a75;left:334.7px;transform:translateX(-50%);">Vendi</span>
<div class="b" style="left:417.5px;top:190.7px;width:33.5px;height:12px;background:#fff;border:1px solid #93a2c2;border-radius:1px;"></div>
<span class="t" style="top:194.00px;font-size:5.6px;line-height:5.6px;color:#173a75;left:434.2px;transform:translateX(-50%);">Acquista</span>
<span class="t" style="top:193.85px;font-size:6.5px;line-height:6.5px;color:#222;left:515px;transform:translateX(-50%);">1,65953 / 1,64035</span>
<svg style="left:579px;top:192.4px" width="7" height="7" viewBox="0 0 7 7"><path d="M3.5 0.3 L4.45 2.4 L6.8 2.65 L5.05 4.2 L5.55 6.5 L3.5 5.3 L1.45 6.5 L1.95 4.2 L0.2 2.65 L2.55 2.4 Z" fill="none" stroke="#555" stroke-width="0.7"/></svg>
<svg style="left:587.7px;top:192.79999999999998px" width="6" height="7" viewBox="0 0 6 7"><path d="M3 0.6 C1.6 0.6 1.3 1.8 1.3 3 C1.3 4.2 0.9 4.6 0.4 5.2 H5.6 C5.1 4.6 4.7 4.2 4.7 3 C4.7 1.8 4.4 0.6 3 0.6 Z M2.3 5.8 Q3 6.6 3.7 5.8" fill="none" stroke="#555" stroke-width="0.65"/></svg>
<svg style="left:598.7px;top:192.7px" width="6.2" height="6.2" viewBox="0 0 8 8"><circle cx="4" cy="4" r="4" fill="#0f2345"/><rect x="3.3" y="3.3" width="1.5" height="3.2" fill="#fff"/><rect x="3.3" y="1.4" width="1.5" height="1.3" fill="#fff"/></svg>
<div class="b" style="left:612px;top:34px;width:3.5px;height:165px;background:#f1f2f4;"></div>
<div class="b" style="left:612.3px;top:34px;width:3px;height:76px;background:#c9c9c9;"></div>
<div class="b" style="left:28px;top:199px;width:587.5px;height:18.5px;background:#0e356b;"></div>
<div class="b" style="left:615.5px;top:19px;width:184.5px;height:359px;background:#fff;"></div>
<div class="b" style="left:615.5px;top:19px;width:184.5px;height:14.5px;background:#3a6199;"></div>
<svg style="left:621px;top:24.5px" width="6" height="6" viewBox="0 0 6 6"><path d="M0.8 0.8 L5.2 5.2 M5.2 0.8 L0.8 5.2" stroke="#fff" stroke-width="1.5"/></svg>
<span class="t" style="top:37.70px;font-size:7.8px;line-height:7.8px;color:#111;font-weight:bold;left:620.6px;transform:scaleX(0.9407);transform-origin:0 50%;">EUR/JPY</span>
<span class="t" style="top:50.50px;font-size:6.4px;line-height:6.4px;color:#333;left:620.6px;transform:scaleX(0.7928);transform-origin:0 50%;">(EURJPY)</span>
<span class="t" style="top:58.70px;font-size:5.2px;line-height:5.2px;color:#222;left:620.6px;transform:scaleX(0.9458);transform-origin:0 50%;">Euro / Yen giapponese</span>
<span class="t" style="top:58.70px;font-size:5.2px;line-height:5.2px;color:#86b4dd;left:672px;transform:scaleX(0.9711);transform-origin:0 50%;">Yahoo! Finanza</span>
<span class="t" style="top:38.00px;font-size:6.6px;line-height:6.6px;color:#b01c22;font-weight:bold;right:9.399999999999977px;transform:scaleX(0.9373);transform-origin:100% 50%;">-0,66%</span>
<svg style="left:792.6px;top:38.2px" width="6.4" height="6.4" viewBox="0 0 8 8"><path d="M2.7 0.3 H5.3 V3.6 H7.6 L4 7.6 L0.4 3.6 H2.7 Z" fill="#8e0f14"/></svg>
<div class="b" style="left:768.7px;top:48.7px;width:14.2px;height:13px;background:#fff;border:1px solid #9a9a9a;"></div>
<div class="b" style="left:785.2px;top:48.7px;width:14.2px;height:13px;background:#fff;border:1px solid #9a9a9a;"></div>
<svg style="left:772.2px;top:51.2px" width="7.4" height="7.4" viewBox="0 0 7 7"><path d="M3.5 0.3 L4.45 2.4 L6.8 2.65 L5.05 4.2 L5.55 6.5 L3.5 5.3 L1.45 6.5 L1.95 4.2 L0.2 2.65 L2.55 2.4 Z" fill="none" stroke="#555" stroke-width="0.65"/></svg>
<svg style="left:789px;top:51px" width="6.6" height="7.7" viewBox="0 0 6 7"><path d="M3 0.6 C1.6 0.6 1.3 1.8 1.3 3 C1.3 4.2 0.9 4.6 0.4 5.2 H5.6 C5.1 4.6 4.7 4.2 4.7 3 C4.7 1.8 4.4 0.6 3 0.6 Z M2.3 5.8 Q3 6.6 3.7 5.8" fill="none" stroke="#555" stroke-width="0.6"/></svg>
<div class="b" style="left:620px;top:65.2px;width:180px;height:1px;background:#c7d3e6;"></div>
<div class="b" style="left:620px;top:70.5px;width:86.2px;height:27px;background:#fff;border:1px solid #666c78;"></div>
<div class="b" style="left:713.3px;top:70.5px;width:86.2px;height:27px;background:#fff;border:1px solid #666c78;"></div>
<span class="t" style="top:74.10px;font-size:6.2px;line-height:6.2px;color:#1f4179;font-weight:bold;letter-spacing:0.052px;left:663.126px;transform:translateX(-50%);">Vendi</span>
<span class="t" style="top:83.95px;font-size:10.3px;line-height:10.3px;color:#2a2f3a;letter-spacing:0.119px;left:663.4594999999999px;transform:translateX(-50%);">118,457</span>
<span class="t" style="top:74.10px;font-size:6.2px;line-height:6.2px;color:#1f4179;font-weight:bold;letter-spacing:0.014px;left:755.8069999999999px;transform:translateX(-50%);">Acquista</span>
<span class="t" style="top:83.95px;font-size:10.3px;line-height:10.3px;color:#2a2f3a;letter-spacing:0.119px;left:756.3594999999999px;transform:translateX(-50%);">118,472</span>
<svg style="left:619.2px;top:107.2px" width="3.6" height="3.4" viewBox="0 0 3.6 3.4"><path d="M0.2 0.6 H3.4 L1.8 2.8 Z" fill="#1b2f55"/></svg>
<span class="t" style="top:105.10px;font-size:7.4px;line-height:7.4px;color:#17305e;font-weight:bold;left:626.8px;transform:scaleX(0.8814);transform-origin:0 50%;">Opinione dei trader</span>
<svg style="left:619.2px;top:145.0px" width="3.6" height="3.4" viewBox="0 0 3.6 3.4"><path d="M0.2 0.6 H3.4 L1.8 2.8 Z" fill="#1b2f55"/></svg>
<span class="t" style="top:142.90px;font-size:7.4px;line-height:7.4px;color:#17305e;font-weight:bold;left:626.8px;transform:scaleX(0.8861);transform-origin:0 50%;">Statistiche dal vivo</span>
<svg style="left:619.2px;top:308.4px" width="3.6" height="3.4" viewBox="0 0 3.6 3.4"><path d="M0.2 0.6 H3.4 L1.8 2.8 Z" fill="#1b2f55"/></svg>
<span class="t" style="top:306.30px;font-size:7.4px;line-height:7.4px;color:#17305e;font-weight:bold;left:626.8px;transform:scaleX(0.8889);transform-origin:0 50%;">Informazioni</span>
<svg style="left:787.5px;top:105.5px" width="8" height="7" viewBox="0 0 8 7"><circle cx="3.4" cy="2" r="1.7" fill="#d3d3d3"/><path d="M0.4 6.6 Q0.4 3.8 3.4 3.8 Q6.4 3.8 6.4 6.6 Z" fill="#d3d3d3"/><path d="M6 1 L7.6 2.4 L6 3.6" fill="#d9d9d9"/></svg>
<svg style="left:788px;top:143px" width="8" height="7" viewBox="0 0 8 7"><path d="M0.5 1 H3 M0.5 3 H7 M0.5 5 H7 M0.5 6.6 H5" stroke="#d0d0d0" stroke-width="1"/></svg>
<span class="t" style="top:118.65px;font-size:5.3px;line-height:5.3px;color:#b0222a;font-weight:bold;left:621.9px;transform:scaleX(0.9701);transform-origin:0 50%;">21% Di venditori</span>
<span class="t" style="top:118.65px;font-size:5.3px;line-height:5.3px;color:#6f9d34;font-weight:bold;right:3.1000000000000227px;transform:scaleX(0.962);transform-origin:100% 50%;">79% Di acquirenti</span>
<div class="b" style="left:620px;top:126.8px;width:37.5px;height:4.1px;background:#9b0e0e;border-radius:1.5px 0 0 1.5px;"></div>
<div class="b" style="left:657px;top:126.8px;width:141.8px;height:4.1px;background:#3d9619;border-radius:0 1.5px 1.5px 0;"></div>
<div class="b" style="left:655.5px;top:126.8px;width:3px;height:4.1px;background:linear-gradient(90deg,#9b0e0e,#3d9619);"></div>
<span class="t" style="top:157.60px;font-size:5.6px;line-height:5.6px;color:#111;font-weight:bold;left:621px;transform:scaleX(0.8765);transform-origin:0 50%;">Cambio</span>
<div class="b" style="left:621px;top:166.5px;width:1px;height:20px;background:#e9ebef;"></div>
<div class="b" style="left:680.2px;top:166.5px;width:1px;height:20px;background:#e9ebef;"></div>
<div class="b" style="left:739.7px;top:166.5px;width:1px;height:20px;background:#e9ebef;"></div>
<span class="t" style="top:170.10px;font-size:5px;line-height:5px;color:#555;letter-spacing:0.187px;left:628px;">5 minuti</span>
<span class="t" style="top:177.30px;font-size:8.2px;line-height:8.2px;color:#8cb068;left:628px;transform:scaleX(0.9935);transform-origin:0 50%;">0,03%</span>
<span class="t" style="top:170.10px;font-size:5px;line-height:5px;color:#555;letter-spacing:0.079px;left:687px;">60 minuti</span>
<span class="t" style="top:177.30px;font-size:8.2px;line-height:8.2px;color:#cf4a52;left:687px;transform:scaleX(0.9622);transform-origin:0 50%;">-0,03%</span>
<span class="t" style="top:170.10px;font-size:5px;line-height:5px;color:#555;letter-spacing:0.091px;left:745.6px;">1 giorno</span>
<span class="t" style="top:177.30px;font-size:8.2px;line-height:8.2px;color:#cf4a52;left:745.6px;transform:scaleX(0.9468);transform-origin:0 50%;">-0,66%</span>
<span class="t" style="top:198.85px;font-size:5.5px;line-height:5.5px;color:#111;font-weight:bold;left:622.5px;transform:scaleX(0.8822);transform-origin:0 50%;">Alto / basso</span>
<span class="t" style="top:206.15px;font-size:5.3px;line-height:5.3px;color:#222;left:622.5px;transform:scaleX(0.8765);transform-origin:0 50%;">Tasso Corrente</span>
<span class="t" style="top:206.15px;font-size:5.3px;line-height:5.3px;color:#d4536a;left:656px;transform:scaleX(0.8526);transform-origin:0 50%;">118,457</span>
<span class="t" style="top:221.20px;font-size:4.8px;line-height:4.8px;color:#333;left:622.5px;transform:scaleX(0.8995);transform-origin:0 50%;text-decoration:underline;">Basso</span>
<span class="t" style="top:221.60px;font-size:4.8px;line-height:4.8px;color:#333;letter-spacing:0.182px;right:2.8179999999999836px;">Alto</span>
<div class="b" style="left:620.2px;top:232px;width:178.8px;height:3.8px;background:#a9c4df;border-radius:1.5px;"></div>
<svg style="left:794.5px;top:231px" width="6" height="3.6" viewBox="0 0 6 3.6"><path d="M0 0 H6 L3 3.6 Z" fill="#1d3458"/></svg>
<span class="t" style="top:240.00px;font-size:5.2px;line-height:5.2px;color:#222;left:622.5px;transform:scaleX(0.869);transform-origin:0 50%;">118,397</span>
<span class="t" style="top:239.95px;font-size:5.3px;line-height:5.3px;color:#333;letter-spacing:0.03px;left:710.015px;transform:translateX(-50%);">5 minuti</span>
<span class="t" style="top:240.00px;font-size:5.2px;line-height:5.2px;color:#222;right:3px;transform:scaleX(0.8799);transform-origin:100% 50%;">118,457</span>
<div class="b" style="left:620.2px;top:255px;width:178.8px;height:3.8px;background:#8ba3cf;border-radius:1.5px;"></div>
<svg style="left:722.3px;top:254px" width="6" height="3.6" viewBox="0 0 6 3.6"><path d="M0 0 H6 L3 3.6 Z" fill="#1d3458"/></svg>
<span class="t" style="top:263.00px;font-size:5.2px;line-height:5.2px;color:#222;left:622.5px;transform:scaleX(0.869);transform-origin:0 50%;">118,350</span>
<span class="t" style="top:262.95px;font-size:5.3px;line-height:5.3px;color:#333;left:710px;transform:translateX(-50%) scaleX(0.9997);">60 minuti</span>
<span class="t" style="top:263.00px;font-size:5.2px;line-height:5.2px;color:#222;right:3px;transform:scaleX(0.8799);transform-origin:100% 50%;">118,528</span>
<div class="b" style="left:620.2px;top:278px;width:178.8px;height:3.8px;background:#6b7a93;border-radius:1.5px;"></div>
<svg style="left:643px;top:277px" width="6" height="3.6" viewBox="0 0 6 3.6"><path d="M0 0 H6 L3 3.6 Z" fill="#1d3458"/></svg>
<span class="t" style="top:286.10px;font-size:5.2px;line-height:5.2px;color:#222;left:622.5px;transform:scaleX(0.869);transform-origin:0 50%;">118,284</span>
<span class="t" style="top:286.05px;font-size:5.3px;line-height:5.3px;color:#333;left:710px;transform:translateX(-50%) scaleX(0.992);">1 giorno</span>
<span class="t" style="top:286.10px;font-size:5.2px;line-height:5.2px;color:#222;right:3px;transform:scaleX(0.8799);transform-origin:100% 50%;">119,284</span>
<span class="t" style="top:323.75px;font-size:8.5px;line-height:8.5px;color:#484848;left:620.6px;transform:scaleX(0.9944);transform-origin:0 50%;">€ 1.000</span>
<span class="t" style="top:323.75px;font-size:8.5px;line-height:8.5px;color:#484848;left:701.6px;transform:scaleX(0.9248);transform-origin:0 50%;">1:30</span>
<span class="t" style="top:323.75px;font-size:8.5px;line-height:8.5px;color:#484848;left:761.9px;transform:scaleX(0.9449);transform-origin:0 50%;">0,015</span>
<span class="t" style="top:334.70px;font-size:5px;line-height:5px;color:#3f639c;left:620.6px;transform:scaleX(0.9921);transform-origin:0 50%;">Quantità unitaria</span>
<span class="t" style="top:334.70px;font-size:5px;line-height:5px;color:#3f639c;left:704.5px;transform:scaleX(0.9223);transform-origin:0 50%;">Leva</span>
<span class="t" style="top:334.70px;font-size:5px;line-height:5px;color:#3f639c;left:761.9px;transform:scaleX(0.9727);transform-origin:0 50%;">Spread dinamico</span>
<span class="t" style="top:347.95px;font-size:5.7px;line-height:5.7px;color:#333;letter-spacing:0.108px;left:620.6px;">Finanziamento di Overnight - Acquisto</span>
<span class="t" style="top:347.95px;font-size:5.7px;line-height:5.7px;color:#222;right:1.6000000000000227px;transform:scaleX(0.9344);transform-origin:100% 50%;">-0,0058%</span>
<span class="t" style="top:358.65px;font-size:5.7px;line-height:5.7px;color:#333;letter-spacing:0.1px;left:620.6px;">Finanziamento di Overnight - Vendita</span>
<span class="t" style="top:358.65px;font-size:5.7px;line-height:5.7px;color:#222;right:1.6000000000000227px;transform:scaleX(0.9344);transform-origin:100% 50%;">-0,0040%</span>
<span class="t" style="top:369.15px;font-size:5.7px;line-height:5.7px;color:#333;letter-spacing:0.153px;left:620.6px;">Ora di finanziamento di overnight</span>
<span class="t" style="top:369.15px;font-size:5.7px;line-height:5.7px;color:#222;right:1.6000000000000227px;transform:scaleX(0.9394);transform-origin:100% 50%;">23:00</span>
<div class="b" style="left:28px;top:217.5px;width:587.5px;height:160px;background:#fff;"></div>
<svg style="left:0;top:0" width="800" height="404" viewBox="0 0 800 404"><path d="M76.7 218 V366" stroke="#e6e6e9" stroke-width="0.7"/><path d="M167 218 V366" stroke="#e6e6e9" stroke-width="0.7"/><path d="M259 218 V366" stroke="#e6e6e9" stroke-width="0.7"/><path d="M343.6 218 V366" stroke="#e6e6e9" stroke-width="0.7"/><path d="M439.7 218 V366" stroke="#e6e6e9" stroke-width="0.7"/><path d="M531.7 218 V366" stroke="#e6e6e9" stroke-width="0.7"/><path d="M122.5 218 V366" stroke="#f4f4f6" stroke-width="0.7"/><path d="M214 218 V366" stroke="#f4f4f6" stroke-width="0.7"/><path d="M305 218 V366" stroke="#f4f4f6" stroke-width="0.7"/><path d="M391 218 V366" stroke="#f4f4f6" stroke-width="0.7"/><path d="M485.5 218 V366" stroke="#f4f4f6" stroke-width="0.7"/><path d="M577.5 218 V366" stroke="#f4f4f6" stroke-width="0.7"/><path d="M76.7 366 V367.6" stroke="#bcbcc0" stroke-width="0.7"/><path d="M122.5 366 V367.6" stroke="#bcbcc0" stroke-width="0.7"/><path d="M167 366 V367.6" stroke="#bcbcc0" stroke-width="0.7"/><path d="M214 366 V367.6" stroke="#bcbcc0" stroke-width="0.7"/><path d="M259 366 V367.6" stroke="#bcbcc0" stroke-width="0.7"/><path d="M305 366 V367.6" stroke="#bcbcc0" stroke-width="0.7"/><path d="M343.6 366 V367.6" stroke="#bcbcc0" stroke-width="0.7"/><path d="M391 366 V367.6" stroke="#bcbcc0" stroke-width="0.7"/><path d="M439.7 366 V367.6" stroke="#bcbcc0" stroke-width="0.7"/><path d="M485.5 366 V367.6" stroke="#bcbcc0" stroke-width="0.7"/><path d="M531.7 366 V367.6" stroke="#bcbcc0" stroke-width="0.7"/><path d="M577.5 366 V367.6" stroke="#bcbcc0" stroke-width="0.7"/><path d="M30 366 H595.4" stroke="#bdbdc2" stroke-width="0.8"/><path d="M595.4 218 V366" stroke="#d2d2d6" stroke-width="0.8"/><path d="M92.5 229.5 L150 237.2 L200 244.3 L250 252 L310 261.3 L360 271 L400 280.7 L441 289.5 L470 295 L496 299.7 L515 300.8 L537 301.5 L580 302.6 L591 303" fill="none" stroke="#93d0e8" stroke-width="0.85"/><path d="M29 266 L53 272.5 L78 278 L103 283 L128 288.75 L143 292.75 L159 295 L174 295.25 L199 295 L216.5 294 L247 293.3 L278.5 292.6 L303.5 290.6 L316 289.8 L337.5 290.4 L365 292.4 L392.5 296 L420 302 L455 307.9 L485 312.5 L496 314.2 L500 313.3 L510 312 L537.5 310.7 L565 310.9 L592 311.3" fill="none" stroke="#b5837d" stroke-width="0.9"/><path d="M30 312.3 H592" stroke="#9da2da" stroke-width="0.9"/><path d="M32.40 273.75 V278.0" stroke="#4a4a4a" stroke-width="0.55"/><rect x="30.95" y="275.0" width="2.9" height="2.00" fill="#2a2a2a" stroke="#2a2a2a" stroke-width="0.35"/><path d="M36.22 270.0 V276.5" stroke="#4a4a4a" stroke-width="0.55"/><rect x="34.77" y="274.4" width="2.9" height="1.60" fill="#8db482" stroke="#55803f" stroke-width="0.35"/><path d="M40.04 274.0 V286.0" stroke="#6a2a24" stroke-width="0.55"/><rect x="38.59" y="274.75" width="2.9" height="10.85" fill="#96322a" stroke="#5e1d18" stroke-width="0.35"/><path d="M43.85 279.4 V286.25" stroke="#4a4a4a" stroke-width="0.55"/><rect x="42.40" y="283.0" width="2.9" height="2.60" fill="#8db482" stroke="#55803f" stroke-width="0.35"/><path d="M47.67 279.0 V287.5" stroke="#4a4a4a" stroke-width="0.55"/><rect x="46.22" y="283.0" width="2.9" height="1.40" fill="#2a2a2a" stroke="#2a2a2a" stroke-width="0.35"/><rect x="50.04" y="273.75" width="2.9" height="11.00" fill="#8db482" stroke="#55803f" stroke-width="0.35"/><rect x="53.86" y="273.5" width="2.9" height="1.25" fill="#2a2a2a" stroke="#2a2a2a" stroke-width="0.35"/><rect x="57.68" y="273.75" width="2.9" height="1.85" fill="#2a2a2a" stroke="#2a2a2a" stroke-width="0.35"/><path d="M62.94 266.0 V277.0" stroke="#4a4a4a" stroke-width="0.55"/><rect x="61.49" y="266.9" width="2.9" height="7.50" fill="#8db482" stroke="#55803f" stroke-width="0.35"/><rect x="65.31" y="267.0" width="2.9" height="1.50" fill="#2a2a2a" stroke="#2a2a2a" stroke-width="0.35"/><rect x="69.13" y="267.5" width="2.9" height="3.10" fill="#96322a" stroke="#5e1d18" stroke-width="0.35"/><path d="M74.40 267.0 V272.0" stroke="#6a2a24" stroke-width="0.55"/><rect x="72.95" y="269.75" width="2.9" height="2.15" fill="#96322a" stroke="#5e1d18" stroke-width="0.35"/><rect x="76.77" y="270.6" width="2.9" height="3.80" fill="#96322a" stroke="#5e1d18" stroke-width="0.35"/><rect x="80.58" y="274.4" width="2.9" height="1.85" fill="#2a2a2a" stroke="#2a2a2a" stroke-width="0.35"/><path d="M85.85 273.75 V284.4" stroke="#6a2a24" stroke-width="0.55"/><rect x="84.40" y="275.6" width="2.9" height="3.15" fill="#96322a" stroke="#5e1d18" stroke-width="0.35"/><path d="M89.67 274.4 V285.0" stroke="#4a4a4a" stroke-width="0.55"/><rect x="88.22" y="277.9" width="2.9" height="1.50" fill="#2a2a2a" stroke="#2a2a2a" stroke-width="0.35"/><path d="M93.49 273.75 V295.0" stroke="#6a2a24" stroke-width="0.55"/><rect x="92.04" y="277.9" width="2.9" height="9.00" fill="#96322a" stroke="#5e1d18" stroke-width="0.35"/><path d="M97.31 285.0 V297.5" stroke="#4a4a4a" stroke-width="0.55"/><rect x="95.86" y="286.9" width="2.9" height="0.90" fill="#2a2a2a" stroke="#2a2a2a" stroke-width="0.35"/><rect x="99.67" y="281.9" width="2.9" height="5.60" fill="#8db482" stroke="#55803f" stroke-width="0.35"/><path d="M104.94 280.0 V286.5" stroke="#4a4a4a" stroke-width="0.55"/><rect x="103.49" y="283.0" width="2.9" height="3.25" fill="#8db482" stroke="#55803f" stroke-width="0.35"/><rect x="107.31" y="280.6" width="2.9" height="1.90" fill="#2a2a2a" stroke="#2a2a2a" stroke-width="0.35"/><rect x="111.13" y="281.25" width="2.9" height="5.00" fill="#96322a" stroke="#5e1d18" stroke-width="0.35"/><rect x="114.95" y="285.6" width="2.9" height="3.80" fill="#96322a" stroke="#5e1d18" stroke-width="0.35"/><rect x="118.76" y="290.0" width="2.9" height="1.25" fill="#2a2a2a" stroke="#2a2a2a" stroke-width="0.35"/><rect x="122.58" y="290.6" width="2.9" height="4.40" fill="#96322a" stroke="#5e1d18" stroke-width="0.35"/><rect x="126.40" y="294.4" width="2.9" height="10.60" fill="#96322a" stroke="#5e1d18" stroke-width="0.35"/><path d="M131.67 297.0 V312.0" stroke="#4a4a4a" stroke-width="0.55"/><rect x="130.22" y="304.75" width="2.9" height="1.50" fill="#2a2a2a" stroke="#2a2a2a" stroke-width="0.35"/><path d="M135.49 292.0 V306.0" stroke="#4a4a4a" stroke-width="0.55"/><rect x="134.04" y="297.25" width="2.9" height="7.75" fill="#8db482" stroke="#55803f" stroke-width="0.35"/><path d="M139.30 288.75 V304.0" stroke="#6a2a24" stroke-width="0.55"/><rect x="137.85" y="297.25" width="2.9" height="6.50" fill="#96322a" stroke="#5e1d18" stroke-width="0.35"/><path d="M143.12 296.25 V305.0" stroke="#4a4a4a" stroke-width="0.55"/><rect x="141.67" y="301.25" width="2.9" height="2.50" fill="#8db482" stroke="#55803f" stroke-width="0.35"/><path d="M146.94 293.0 V305.0" stroke="#4a4a4a" stroke-width="0.55"/><rect x="145.49" y="293.75" width="2.9" height="6.85" fill="#8db482" stroke="#55803f" stroke-width="0.35"/><path d="M150.76 288.0 V295.0" stroke="#4a4a4a" stroke-width="0.55"/><rect x="149.31" y="289.4" width="2.9" height="5.00" fill="#8db482" stroke="#55803f" stroke-width="0.35"/><path d="M154.58 280.0 V291.25" stroke="#4a4a4a" stroke-width="0.55"/><rect x="153.13" y="284.4" width="2.9" height="4.35" fill="#8db482" stroke="#55803f" stroke-width="0.35"/><path d="M158.39 277.0 V285.6" stroke="#4a4a4a" stroke-width="0.55"/><rect x="156.94" y="283.0" width="2.9" height="1.40" fill="#2a2a2a" stroke="#2a2a2a" stroke-width="0.35"/><rect x="160.76" y="283.0" width="2.9" height="1.40" fill="#2a2a2a" stroke="#2a2a2a" stroke-width="0.35"/><path d="M166.03 277.0 V285.0" stroke="#4a4a4a" stroke-width="0.55"/><rect x="164.58" y="283.0" width="2.9" height="1.75" fill="#2a2a2a" stroke="#2a2a2a" stroke-width="0.35"/><path d="M169.85 283.75 V291.25" stroke="#6a2a24" stroke-width="0.55"/><rect x="168.40" y="284.0" width="2.9" height="4.00" fill="#96322a" stroke="#5e1d18" stroke-width="0.35"/><path d="M173.67 284.4 V289.5" stroke="#4a4a4a" stroke-width="0.55"/><rect x="172.22" y="287.9" width="2.9" height="1.50" fill="#2a2a2a" stroke="#2a2a2a" stroke-width="0.35"/><path d="M177.48 285.0 V291.25" stroke="#4a4a4a" stroke-width="0.55"/><rect x="176.03" y="289.0" width="2.9" height="1.60" fill="#2a2a2a" stroke="#2a2a2a" stroke-width="0.35"/><path d="M181.30 272.0 V293.75" stroke="#4a4a4a" stroke-width="0.55"/><rect x="179.85" y="276.9" width="2.9" height="13.70" fill="#8db482" stroke="#55803f" stroke-width="0.35"/><rect x="183.67" y="276.5" width="2.9" height="7.25" fill="#96322a" stroke="#5e1d18" stroke-width="0.35"/><rect x="187.49" y="278.0" width="2.9" height="5.75" fill="#8db482" stroke="#55803f" stroke-width="0.35"/><rect x="191.31" y="278.0" width="2.9" height="5.75" fill="#96322a" stroke="#5e1d18" stroke-width="0.35"/><rect x="195.12" y="283.4" width="2.9" height="0.90" fill="#2a2a2a" stroke="#2a2a2a" stroke-width="0.35"/><path d="M200.39 283.75 V288.75" stroke="#4a4a4a" stroke-width="0.55"/><rect x="198.94" y="283.75" width="2.9" height="1.25" fill="#2a2a2a" stroke="#2a2a2a" stroke-width="0.35"/><path d="M204.21 277.5 V286.25" stroke="#4a4a4a" stroke-width="0.55"/><rect x="202.76" y="281.9" width="2.9" height="3.70" fill="#8db482" stroke="#55803f" stroke-width="0.35"/><path d="M208.03 277.0 V285.6" stroke="#4a4a4a" stroke-width="0.55"/><rect x="206.58" y="282.5" width="2.9" height="1.00" fill="#2a2a2a" stroke="#2a2a2a" stroke-width="0.35"/><path d="M211.85 280.0 V286.0" stroke="#6a2a24" stroke-width="0.55"/><rect x="210.40" y="282.5" width="2.9" height="3.10" fill="#96322a" stroke="#5e1d18" stroke-width="0.35"/><rect x="214.21" y="285.0" width="2.9" height="7.50" fill="#96322a" stroke="#5e1d18" stroke-width="0.35"/><path d="M219.48 292.0 V307.5" stroke="#6a2a24" stroke-width="0.55"/><rect x="218.03" y="292.5" width="2.9" height="12.50" fill="#96322a" stroke="#5e1d18" stroke-width="0.35"/><rect x="221.85" y="289.4" width="2.9" height="16.20" fill="#8db482" stroke="#55803f" stroke-width="0.35"/><path d="M227.12 272.5 V303.75" stroke="#4a4a4a" stroke-width="0.55"/><rect x="225.67" y="289.4" width="2.9" height="3.10" fill="#2a2a2a" stroke="#2a2a2a" stroke-width="0.35"/><path d="M230.94 277.5 V292.5" stroke="#4a4a4a" stroke-width="0.55"/><rect x="229.49" y="284.4" width="2.9" height="7.85" fill="#8db482" stroke="#55803f" stroke-width="0.35"/><path d="M234.75 280.0 V291.5" stroke="#4a4a4a" stroke-width="0.55"/><rect x="233.30" y="285.0" width="2.9" height="6.25" fill="#8db482" stroke="#55803f" stroke-width="0.35"/><rect x="237.12" y="282.5" width="2.9" height="9.00" fill="#8db482" stroke="#55803f" stroke-width="0.35"/><rect x="240.94" y="282.25" width="2.9" height="9.25" fill="#96322a" stroke="#5e1d18" stroke-width="0.35"/><path d="M246.21 291.0 V311.25" stroke="#6a2a24" stroke-width="0.55"/><rect x="244.76" y="291.5" width="2.9" height="16.00" fill="#96322a" stroke="#5e1d18" stroke-width="0.35"/><rect x="248.58" y="305.0" width="2.9" height="2.50" fill="#2a2a2a" stroke="#2a2a2a" stroke-width="0.35"/><path d="M253.84 301.9 V306.0" stroke="#4a4a4a" stroke-width="0.55"/><rect x="252.39" y="305.0" width="2.9" height="1.00" fill="#2a2a2a" stroke="#2a2a2a" stroke-width="0.35"/><path d="M257.66 295.6 V318.0" stroke="#6a2a24" stroke-width="0.55"/><rect x="256.21" y="305.25" width="2.9" height="4.50" fill="#96322a" stroke="#5e1d18" stroke-width="0.35"/><path d="M261.48 309.0 V318.75" stroke="#6a2a24" stroke-width="0.55"/><rect x="260.03" y="310.0" width="2.9" height="4.40" fill="#96322a" stroke="#5e1d18" stroke-width="0.35"/><path d="M265.30 312.0 V318.75" stroke="#4a4a4a" stroke-width="0.55"/><rect x="263.85" y="312.25" width="2.9" height="3.35" fill="#8db482" stroke="#55803f" stroke-width="0.35"/><rect x="267.67" y="304.0" width="2.9" height="8.50" fill="#8db482" stroke="#55803f" stroke-width="0.35"/><path d="M272.93 301.25 V307.5" stroke="#4a4a4a" stroke-width="0.55"/><rect x="271.48" y="301.9" width="2.9" height="2.50" fill="#8db482" stroke="#55803f" stroke-width="0.35"/><rect x="275.30" y="299.0" width="2.9" height="2.90" fill="#8db482" stroke="#55803f" stroke-width="0.35"/><rect x="279.12" y="299.4" width="2.9" height="1.20" fill="#2a2a2a" stroke="#2a2a2a" stroke-width="0.35"/><rect x="282.94" y="300.0" width="2.9" height="1.50" fill="#2a2a2a" stroke="#2a2a2a" stroke-width="0.35"/><rect x="286.76" y="301.25" width="2.9" height="4.00" fill="#96322a" stroke="#5e1d18" stroke-width="0.35"/><rect x="290.57" y="305.6" width="2.9" height="5.65" fill="#96322a" stroke="#5e1d18" stroke-width="0.35"/><rect x="294.39" y="308.75" width="2.9" height="2.50" fill="#2a2a2a" stroke="#2a2a2a" stroke-width="0.35"/><path d="M299.66 301.25 V308.0" stroke="#4a4a4a" stroke-width="0.55"/><rect x="298.21" y="306.0" width="2.9" height="1.50" fill="#8db482" stroke="#55803f" stroke-width="0.35"/><path d="M303.48 302.5 V308.75" stroke="#4a4a4a" stroke-width="0.55"/><rect x="302.03" y="306.0" width="2.9" height="1.00" fill="#2a2a2a" stroke="#2a2a2a" stroke-width="0.35"/><path d="M307.30 301.25 V308.75" stroke="#6a2a24" stroke-width="0.55"/><rect x="305.85" y="306.0" width="2.9" height="2.50" fill="#96322a" stroke="#5e1d18" stroke-width="0.35"/><path d="M311.11 309.0 V315.6" stroke="#4a4a4a" stroke-width="0.55"/><rect x="309.66" y="309.0" width="2.9" height="1.00" fill="#2a2a2a" stroke="#2a2a2a" stroke-width="0.35"/><rect x="313.48" y="309.2" width="2.9" height="4.55" fill="#96322a" stroke="#5e1d18" stroke-width="0.35"/><rect x="317.30" y="312.5" width="2.9" height="2.25" fill="#96322a" stroke="#5e1d18" stroke-width="0.35"/><path d="M322.57 312.5 V323.75" stroke="#6a2a24" stroke-width="0.55"/><rect x="321.12" y="313.0" width="2.9" height="4.50" fill="#96322a" stroke="#5e1d18" stroke-width="0.35"/><rect x="324.94" y="317.5" width="2.9" height="9.40" fill="#96322a" stroke="#5e1d18" stroke-width="0.35"/><path d="M330.20 316.25 V332.5" stroke="#4a4a4a" stroke-width="0.55"/><rect x="328.75" y="318.75" width="2.9" height="8.75" fill="#8db482" stroke="#55803f" stroke-width="0.35"/><path d="M334.02 314.4 V321.9" stroke="#4a4a4a" stroke-width="0.55"/><rect x="332.57" y="318.75" width="2.9" height="1.85" fill="#2a2a2a" stroke="#2a2a2a" stroke-width="0.35"/><path d="M337.84 319.0 V321.9" stroke="#4a4a4a" stroke-width="0.55"/><rect x="336.39" y="319.4" width="2.9" height="1.20" fill="#2a2a2a" stroke="#2a2a2a" stroke-width="0.35"/><path d="M341.66 316.9 V320.0" stroke="#4a4a4a" stroke-width="0.55"/><rect x="340.21" y="318.75" width="2.9" height="1.25" fill="#2a2a2a" stroke="#2a2a2a" stroke-width="0.35"/><path d="M345.48 316.9 V325.0" stroke="#4a4a4a" stroke-width="0.55"/><rect x="344.03" y="319.4" width="2.9" height="3.10" fill="#8db482" stroke="#55803f" stroke-width="0.35"/><path d="M349.29 314.4 V321.25" stroke="#4a4a4a" stroke-width="0.55"/><rect x="347.84" y="319.4" width="2.9" height="1.20" fill="#2a2a2a" stroke="#2a2a2a" stroke-width="0.35"/><path d="M353.11 319.0 V335.6" stroke="#6a2a24" stroke-width="0.55"/><rect x="351.66" y="319.4" width="2.9" height="11.20" fill="#96322a" stroke="#5e1d18" stroke-width="0.35"/><rect x="355.48" y="330.0" width="2.9" height="1.25" fill="#2a2a2a" stroke="#2a2a2a" stroke-width="0.35"/><path d="M360.75 321.25 V330.6" stroke="#4a4a4a" stroke-width="0.55"/><rect x="359.30" y="323.75" width="2.9" height="6.85" fill="#8db482" stroke="#55803f" stroke-width="0.35"/><rect x="363.12" y="323.75" width="2.9" height="1.65" fill="#2a2a2a" stroke="#2a2a2a" stroke-width="0.35"/><rect x="366.93" y="325.4" width="2.9" height="1.50" fill="#2a2a2a" stroke="#2a2a2a" stroke-width="0.35"/><path d="M372.20 327.0 V330.0" stroke="#4a4a4a" stroke-width="0.55"/><rect x="370.75" y="327.25" width="2.9" height="1.25" fill="#2a2a2a" stroke="#2a2a2a" stroke-width="0.35"/><rect x="374.57" y="326.5" width="2.9" height="1.50" fill="#2a2a2a" stroke="#2a2a2a" stroke-width="0.35"/><rect x="378.39" y="326.9" width="2.9" height="5.60" fill="#96322a" stroke="#5e1d18" stroke-width="0.35"/><rect x="382.21" y="332.5" width="2.9" height="13.75" fill="#96322a" stroke="#5e1d18" stroke-width="0.35"/><path d="M387.47 346.0 V360.0" stroke="#6a2a24" stroke-width="0.55"/><rect x="386.02" y="346.25" width="2.9" height="8.15" fill="#96322a" stroke="#5e1d18" stroke-width="0.35"/><path d="M391.29 353.0 V360.0" stroke="#4a4a4a" stroke-width="0.55"/><rect x="389.84" y="353.75" width="2.9" height="1.25" fill="#2a2a2a" stroke="#2a2a2a" stroke-width="0.35"/><path d="M395.11 345.0 V357.5" stroke="#4a4a4a" stroke-width="0.55"/><rect x="393.66" y="351.25" width="2.9" height="3.75" fill="#8db482" stroke="#55803f" stroke-width="0.35"/><path d="M398.93 351.0 V358.75" stroke="#6a2a24" stroke-width="0.55"/><rect x="397.48" y="351.25" width="2.9" height="4.35" fill="#96322a" stroke="#5e1d18" stroke-width="0.35"/><rect x="401.30" y="340.0" width="2.9" height="15.00" fill="#8db482" stroke="#55803f" stroke-width="0.35"/><rect x="405.11" y="328.5" width="2.9" height="11.25" fill="#8db482" stroke="#55803f" stroke-width="0.35"/><path d="M410.38 320.6 V333.0" stroke="#4a4a4a" stroke-width="0.55"/><rect x="408.93" y="328.75" width="2.9" height="1.00" fill="#2a2a2a" stroke="#2a2a2a" stroke-width="0.35"/><path d="M414.20 322.0 V333.0" stroke="#4a4a4a" stroke-width="0.55"/><rect x="412.75" y="328.0" width="2.9" height="1.20" fill="#2a2a2a" stroke="#2a2a2a" stroke-width="0.35"/><path d="M418.02 322.5 V332.5" stroke="#6a2a24" stroke-width="0.55"/><rect x="416.57" y="328.0" width="2.9" height="3.00" fill="#96322a" stroke="#5e1d18" stroke-width="0.35"/><rect x="420.39" y="330.6" width="2.9" height="0.90" fill="#2a2a2a" stroke="#2a2a2a" stroke-width="0.35"/><path d="M425.65 329.0 V333.0" stroke="#4a4a4a" stroke-width="0.55"/><rect x="424.20" y="329.4" width="2.9" height="1.20" fill="#2a2a2a" stroke="#2a2a2a" stroke-width="0.35"/><path d="M429.47 328.0 V332.5" stroke="#4a4a4a" stroke-width="0.55"/><rect x="428.02" y="329.4" width="2.9" height="1.85" fill="#2a2a2a" stroke="#2a2a2a" stroke-width="0.35"/><rect x="431.84" y="331.5" width="2.9" height="1.25" fill="#2a2a2a" stroke="#2a2a2a" stroke-width="0.35"/><path d="M437.11 328.0 V336.9" stroke="#6a2a24" stroke-width="0.55"/><rect x="435.66" y="331.9" width="2.9" height="3.10" fill="#96322a" stroke="#5e1d18" stroke-width="0.35"/><rect x="439.48" y="332.75" width="2.9" height="2.25" fill="#8db482" stroke="#55803f" stroke-width="0.35"/><path d="M444.74 325.0 V334.0" stroke="#4a4a4a" stroke-width="0.55"/><rect x="443.29" y="325.25" width="2.9" height="7.75" fill="#8db482" stroke="#55803f" stroke-width="0.35"/><rect x="447.11" y="324.75" width="2.9" height="5.85" fill="#96322a" stroke="#5e1d18" stroke-width="0.35"/><path d="M452.38 328.75 V332.5" stroke="#4a4a4a" stroke-width="0.55"/><rect x="450.93" y="330.6" width="2.9" height="1.65" fill="#2a2a2a" stroke="#2a2a2a" stroke-width="0.35"/><path d="M456.20 328.75 V334.4" stroke="#4a4a4a" stroke-width="0.55"/><rect x="454.75" y="332.25" width="2.9" height="0.90" fill="#2a2a2a" stroke="#2a2a2a" stroke-width="0.35"/><path d="M460.02 329.4 V338.0" stroke="#6a2a24" stroke-width="0.55"/><rect x="458.57" y="332.25" width="2.9" height="3.75" fill="#96322a" stroke="#5e1d18" stroke-width="0.35"/><rect x="462.38" y="336.0" width="2.9" height="1.25" fill="#2a2a2a" stroke="#2a2a2a" stroke-width="0.35"/><rect x="466.20" y="337.5" width="2.9" height="1.00" fill="#2a2a2a" stroke="#2a2a2a" stroke-width="0.35"/><rect x="470.02" y="338.0" width="2.9" height="6.00" fill="#96322a" stroke="#5e1d18" stroke-width="0.35"/><path d="M475.29 340.0 V351.25" stroke="#6a2a24" stroke-width="0.55"/><rect x="473.84" y="344.0" width="2.9" height="6.60" fill="#96322a" stroke="#5e1d18" stroke-width="0.35"/><path d="M479.11 341.9 V352.5" stroke="#4a4a4a" stroke-width="0.55"/><rect x="477.66" y="344.4" width="2.9" height="6.85" fill="#8db482" stroke="#55803f" stroke-width="0.35"/><path d="M482.92 341.9 V350.0" stroke="#4a4a4a" stroke-width="0.55"/><rect x="481.47" y="344.4" width="2.9" height="1.20" fill="#2a2a2a" stroke="#2a2a2a" stroke-width="0.35"/><rect x="485.29" y="336.25" width="2.9" height="10.65" fill="#8db482" stroke="#55803f" stroke-width="0.35"/><path d="M490.56 334.4 V341.9" stroke="#4a4a4a" stroke-width="0.55"/><rect x="489.11" y="335.6" width="2.9" height="1.30" fill="#2a2a2a" stroke="#2a2a2a" stroke-width="0.35"/><path d="M494.38 328.0 V337.0" stroke="#4a4a4a" stroke-width="0.55"/><rect x="492.93" y="336.0" width="2.9" height="1.00" fill="#2a2a2a" stroke="#2a2a2a" stroke-width="0.35"/><path d="M498.20 269.4 V336.0" stroke="#4a4a4a" stroke-width="0.55"/><rect x="496.75" y="275.0" width="2.9" height="60.60" fill="#8db482" stroke="#55803f" stroke-width="0.35"/><path d="M502.01 252.5 V288.75" stroke="#4a4a4a" stroke-width="0.55"/><rect x="500.56" y="268.0" width="2.9" height="7.60" fill="#8db482" stroke="#55803f" stroke-width="0.35"/><path d="M505.83 265.6 V280.0" stroke="#6a2a24" stroke-width="0.55"/><rect x="504.38" y="268.0" width="2.9" height="5.00" fill="#96322a" stroke="#5e1d18" stroke-width="0.35"/><path d="M509.65 271.25 V278.0" stroke="#6a2a24" stroke-width="0.55"/><rect x="508.20" y="272.75" width="2.9" height="4.15" fill="#96322a" stroke="#5e1d18" stroke-width="0.35"/><path d="M513.47 276.0 V282.5" stroke="#4a4a4a" stroke-width="0.55"/><rect x="512.02" y="276.0" width="2.9" height="1.25" fill="#2a2a2a" stroke="#2a2a2a" stroke-width="0.35"/><path d="M517.29 274.0 V277.5" stroke="#4a4a4a" stroke-width="0.55"/><rect x="515.84" y="274.0" width="2.9" height="1.60" fill="#2a2a2a" stroke="#2a2a2a" stroke-width="0.35"/><path d="M521.10 273.5 V276.9" stroke="#4a4a4a" stroke-width="0.55"/><rect x="519.65" y="273.5" width="2.9" height="1.25" fill="#2a2a2a" stroke="#2a2a2a" stroke-width="0.35"/><path d="M524.92 271.0 V276.25" stroke="#4a4a4a" stroke-width="0.55"/><rect x="523.47" y="271.25" width="2.9" height="1.75" fill="#2a2a2a" stroke="#2a2a2a" stroke-width="0.35"/><rect x="527.29" y="270.6" width="2.9" height="0.90" fill="#2a2a2a" stroke="#2a2a2a" stroke-width="0.35"/><rect x="531.11" y="270.6" width="2.9" height="5.65" fill="#96322a" stroke="#5e1d18" stroke-width="0.35"/><path d="M536.38 273.0 V276.5" stroke="#4a4a4a" stroke-width="0.55"/><rect x="534.93" y="275.6" width="2.9" height="0.90" fill="#2a2a2a" stroke="#2a2a2a" stroke-width="0.35"/><rect x="538.74" y="276.25" width="2.9" height="15.65" fill="#96322a" stroke="#5e1d18" stroke-width="0.35"/><path d="M544.01 282.5 V295.0" stroke="#4a4a4a" stroke-width="0.55"/><rect x="542.56" y="289.4" width="2.9" height="1.85" fill="#2a2a2a" stroke="#2a2a2a" stroke-width="0.35"/><path d="M547.83 288.75 V298.75" stroke="#6a2a24" stroke-width="0.55"/><rect x="546.38" y="289.0" width="2.9" height="6.00" fill="#96322a" stroke="#5e1d18" stroke-width="0.35"/><rect x="550.20" y="293.0" width="2.9" height="1.40" fill="#2a2a2a" stroke="#2a2a2a" stroke-width="0.35"/><path d="M555.47 278.0 V294.0" stroke="#4a4a4a" stroke-width="0.55"/><rect x="554.02" y="282.25" width="2.9" height="11.50" fill="#8db482" stroke="#55803f" stroke-width="0.35"/><rect x="557.83" y="282.25" width="2.9" height="9.00" fill="#96322a" stroke="#5e1d18" stroke-width="0.35"/><path d="M563.10 285.0 V293.75" stroke="#4a4a4a" stroke-width="0.55"/><rect x="561.65" y="288.0" width="2.9" height="1.75" fill="#2a2a2a" stroke="#2a2a2a" stroke-width="0.35"/><rect x="565.47" y="284.4" width="2.9" height="3.60" fill="#8db482" stroke="#55803f" stroke-width="0.35"/><rect x="569.29" y="283.75" width="2.9" height="1.85" fill="#2a2a2a" stroke="#2a2a2a" stroke-width="0.35"/><path d="M574.56 281.25 V289.0" stroke="#6a2a24" stroke-width="0.55"/><rect x="573.11" y="285.0" width="2.9" height="3.75" fill="#96322a" stroke="#5e1d18" stroke-width="0.35"/><rect x="576.92" y="289.2" width="2.9" height="12.70" fill="#96322a" stroke="#5e1d18" stroke-width="0.35"/><path d="M582.19 299.4 V320.6" stroke="#6a2a24" stroke-width="0.55"/><rect x="580.74" y="301.9" width="2.9" height="13.70" fill="#96322a" stroke="#5e1d18" stroke-width="0.35"/><path d="M586.01 308.0 V318.75" stroke="#4a4a4a" stroke-width="0.55"/><rect x="584.56" y="310.0" width="2.9" height="5.60" fill="#8db482" stroke="#55803f" stroke-width="0.35"/><path d="M589.83 310.0 V316.25" stroke="#4a4a4a" stroke-width="0.55"/><rect x="588.38" y="310.6" width="2.9" height="1.40" fill="#2a2a2a" stroke="#2a2a2a" stroke-width="0.35"/><rect x="592.6" y="308.7" width="20" height="6.4" rx="1.6" fill="#9ccf8a"/><rect x="301.7" y="344.3" width="25" height="9" rx="1" fill="#f3f3f3"/><path d="M305 348.7 H309.6 M318.8 348.7 H323.4 M321.1 346.4 V351" stroke="#444" stroke-width="1"/></svg>
<span class="t" style="top:309.70px;font-size:4.6px;line-height:4.6px;color:#eaf6e2;left:602.6px;transform:translateX(-50%) scaleX(0.8596);">118,457</span>
<svg style="left:35px;top:224.7px" width="5.8" height="5.8" viewBox="0 0 8 8"><circle cx="4" cy="4" r="4" fill="#1b3157"/><rect x="3.3" y="3.3" width="1.5" height="3.2" fill="#fff"/><rect x="3.3" y="1.4" width="1.5" height="1.3" fill="#fff"/></svg>
<span class="t" style="top:222.95px;font-size:9.3px;line-height:9.3px;color:#111;font-weight:bold;letter-spacing:0.172px;left:45.4px;">EUR/JPY</span>
<span class="t" style="top:306.50px;font-size:4.6px;line-height:4.6px;color:#1d1d1d;left:50px;transform:scaleX(0.8881);transform-origin:0 50%;">Tasso corrente d'acquisto</span>
<span class="t" style="top:368.95px;font-size:4.7px;line-height:4.7px;color:#4a4a4a;right:761px;">12:00</span>
<span class="t" style="top:368.95px;font-size:4.7px;line-height:4.7px;color:#4a4a4a;left:76.5px;transform:translateX(-50%);">7/8</span>
<span class="t" style="top:368.95px;font-size:4.7px;line-height:4.7px;color:#4a4a4a;left:124px;transform:translateX(-50%);">12:00</span>
<span class="t" style="top:368.95px;font-size:4.7px;line-height:4.7px;color:#4a4a4a;left:169px;transform:translateX(-50%);">8/8</span>
<span class="t" style="top:368.95px;font-size:4.7px;line-height:4.7px;color:#4a4a4a;left:215px;transform:translateX(-50%);">12:00</span>
<span class="t" style="top:368.95px;font-size:4.7px;line-height:4.7px;color:#4a4a4a;left:260px;transform:translateX(-50%);">9/8</span>
<span class="t" style="top:368.95px;font-size:4.7px;line-height:4.7px;color:#4a4a4a;left:306px;transform:translateX(-50%);">12:00</span>
<span class="t" style="top:368.95px;font-size:4.7px;line-height:4.7px;color:#4a4a4a;left:345px;transform:translateX(-50%);">12/8</span>
<span class="t" style="top:368.95px;font-size:4.7px;line-height:4.7px;color:#4a4a4a;left:392.5px;transform:translateX(-50%);">12:00</span>
<span class="t" style="top:368.95px;font-size:4.7px;line-height:4.7px;color:#4a4a4a;left:440.2px;transform:translateX(-50%);">13/8</span>
<span class="t" style="top:368.95px;font-size:4.7px;line-height:4.7px;color:#4a4a4a;left:487.5px;transform:translateX(-50%);">12:00</span>
<span class="t" style="top:368.95px;font-size:4.7px;line-height:4.7px;color:#4a4a4a;left:531.3px;transform:translateX(-50%);">14/8</span>
<span class="t" style="top:368.95px;font-size:4.7px;line-height:4.7px;color:#4a4a4a;left:579.6px;transform:translateX(-50%);">12:00</span>
<span class="t" style="top:229.50px;font-size:5px;line-height:5px;color:#444;left:597.8px;transform:scaleX(0.8299);transform-origin:0 50%;">120,000</span>
<span class="t" style="top:255.50px;font-size:5px;line-height:5px;color:#444;left:597.8px;transform:scaleX(0.8473);transform-origin:0 50%;">119,500</span>
<span class="t" style="top:282.00px;font-size:5px;line-height:5px;color:#444;left:597.8px;transform:scaleX(0.8473);transform-origin:0 50%;">119,000</span>
<span class="t" style="top:334.50px;font-size:5px;line-height:5px;color:#444;left:597.8px;transform:scaleX(0.8473);transform-origin:0 50%;">118,000</span>
<span class="t" style="top:359.50px;font-size:5px;line-height:5px;color:#444;left:597.8px;transform:scaleX(0.8473);transform-origin:0 50%;">117,500</span>
<div class="b" style="left:0px;top:360px;width:28px;height:17px;background:#0c2952;"></div>
<span class="t" style="top:205.30px;font-size:6.6px;line-height:6.6px;color:#b5c2dc;letter-spacing:0.091px;left:472px;">1 ora</span>
<svg style="left:489px;top:207.4px" width="3.4" height="3" viewBox="0 0 3.6 3.4"><path d="M0.2 0.6 H3.4 L1.8 2.8 Z" fill="#c6d2ea"/></svg>
<svg style="left:501px;top:204.6px" width="8.2" height="7.2" viewBox="0 0 9 9"><path d="M1.6 1.2 V8.4 M4.5 0.2 V7.2 M7.4 1.6 V8.6" stroke="#e9eef8" stroke-width="0.7"/><rect x="0.5" y="3" width="2.2" height="3.6" fill="#e9eef8"/><rect x="3.4" y="1.4" width="2.2" height="4.2" fill="#e9eef8"/><rect x="6.3" y="3.2" width="2.2" height="3.8" fill="#e9eef8"/></svg>
<span class="t" style="top:203.45px;font-size:9.5px;line-height:9.5px;color:#e9eef8;left:520.6px;transform:translateX(-50%);font-family:'Liberation Serif',serif;"><i>f</i></span>
<span class="t" style="top:207.90px;font-size:4.6px;line-height:4.6px;color:#e9eef8;left:524.2px;transform:translateX(-50%);font-style:italic;">x</span>
<svg style="left:533.5px;top:203.9px" width="11" height="8" viewBox="0 0 11 8"><path d="M0 7.6 L3.6 1.6 L5.4 4.4 L7 2.6 L11 7.6 Z" fill="#e9eef8"/></svg>
<svg style="left:551.4px;top:204.2px" width="8.6" height="8.6" viewBox="0 0 10 10"><circle cx="5" cy="5" r="3.2" fill="none" stroke="#e9eef8" stroke-width="2.2"/><g stroke="#e9eef8" stroke-width="1.7"><path d="M5 0 V2 M5 8 V10 M0 5 H2 M8 5 H10 M1.5 1.5 L2.9 2.9 M7.1 7.1 L8.5 8.5 M8.5 1.5 L7.1 2.9 M2.9 7.1 L1.5 8.5"/></g></svg>
<svg style="left:568px;top:204.1px" width="9" height="9" viewBox="0 0 10 10"><circle cx="5" cy="5" r="3.5" fill="none" stroke="#e9eef8" stroke-width="1.1"/><path d="M5 0 V10 M0 5 H10" stroke="#e9eef8" stroke-width="1"/></svg>
<svg style="left:584px;top:204.6px" width="8.4" height="8.4" viewBox="0 0 10 10"><path d="M2 6.6 L6.6 1.6 L8.2 3 L3.6 8 L1.6 8.4 Z" fill="none" stroke="#a9b7d3" stroke-width="0.9"/><path d="M0.6 9.5 H9.4" stroke="#a9b7d3" stroke-width="0.9"/></svg>
<svg style="left:599.8px;top:205.1px" width="7.2" height="7.2" viewBox="0 0 10 10"><path d="M5.8 0.6 H9.4 V4.2 Z M0.6 5.8 V9.4 H4.2 Z" fill="#e9eef8"/><path d="M8.6 1.4 L5.6 4.4 M1.4 8.6 L4.4 5.6" stroke="#e9eef8" stroke-width="1.3"/></svg>
<span class="t" style="top:386.60px;font-size:15px;line-height:15px;color:#000;font-weight:bold;left:35.8px;">*</span>
<span class="t" style="top:386.60px;font-size:15px;line-height:15px;color:#000;font-weight:bold;letter-spacing:0.982px;left:47.2px;">prezzi</span>
<span class="t" style="top:386.60px;font-size:15px;line-height:15px;color:#000;font-weight:bold;letter-spacing:0.37px;left:100.7px;">illustrativi</span>
</body></html>
